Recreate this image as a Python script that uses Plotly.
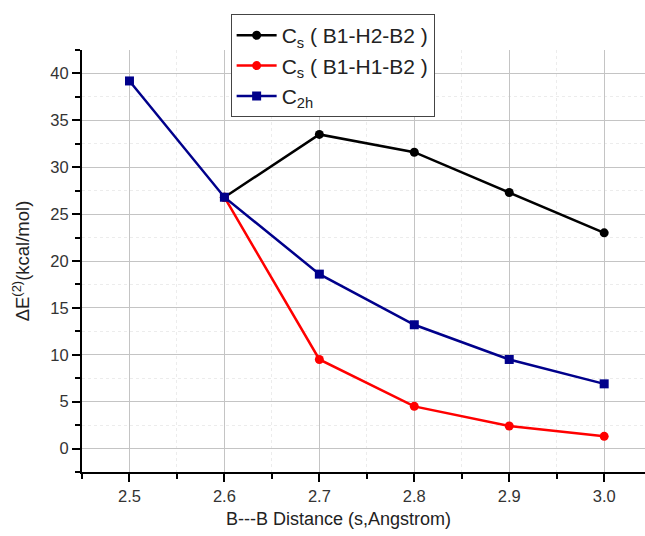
import plotly.graph_objects as go

x_cs_h2 = [2.6, 2.7, 2.8, 2.9, 3.0]
y_cs_h2 = [26.8, 33.5, 31.6, 27.3, 23.0]

x_cs_h1 = [2.6, 2.7, 2.8, 2.9, 3.0]
y_cs_h1 = [26.8, 9.5, 4.5, 2.4, 1.3]

x_c2h = [2.5, 2.6, 2.7, 2.8, 2.9, 3.0]
y_c2h = [39.2, 26.8, 18.6, 13.2, 9.5, 6.9]

x_ticks = [2.5, 2.6, 2.7, 2.8, 2.9, 3.0]
x_ticklabels = ["2.5", "2.6", "2.7", "2.8", "2.9", "3.0"]
y_ticks = [0, 5, 10, 15, 20, 25, 30, 35, 40]

font_family = "Arial, Liberation Sans, sans-serif"

fig = go.Figure()
fig.add_trace(go.Scatter(
    x=x_cs_h2, y=y_cs_h2, mode="lines+markers",
    name="C<sub>s</sub> ( B1-H2-B2 )",
    line=dict(color="black", width=2.5),
    marker=dict(symbol="circle", size=9, color="black"),
))
fig.add_trace(go.Scatter(
    x=x_cs_h1, y=y_cs_h1, mode="lines+markers",
    name="C<sub>s</sub> ( B1-H1-B2 )",
    line=dict(color="#ff0000", width=2.5),
    marker=dict(symbol="circle", size=9, color="#ff0000"),
))
fig.add_trace(go.Scatter(
    x=x_c2h, y=y_c2h, mode="lines+markers",
    name="C<sub>2h</sub>",
    line=dict(color="#00008b", width=2.5),
    marker=dict(symbol="square", size=9, color="#00008b"),
))

axis_common = dict(
    showline=True, linecolor="black", linewidth=2,
    ticks="outside", ticklen=8, tickwidth=2, tickcolor="black",
    showgrid=True, gridcolor="#c4c4c4", gridwidth=1,
    zeroline=False, mirror=False,
    tickfont=dict(family=font_family, size=16.5, color="#333333"),
)

fig.update_xaxes(
    range=[2.45, 3.043], tickvals=x_ticks, ticktext=x_ticklabels,
    minor=dict(dtick=0.05, ticks="outside", ticklen=5, tickwidth=2,
               tickcolor="black", showgrid=True, gridcolor="#ececec",
               griddash="dot"),
    **axis_common,
)
fig.update_yaxes(
    range=[-2.5, 42.5], tickvals=y_ticks,
    title=dict(text="ΔE<sup>(2)</sup>(kcal/mol)",
               font=dict(family=font_family, size=18.5, color="#222222"),
               standoff=16),
    minor=dict(dtick=2.5, tick0=0, ticks="outside", ticklen=5, tickwidth=2,
               tickcolor="black", showgrid=True, gridcolor="#ececec",
               griddash="dot"),
    **axis_common,
)

fig.add_annotation(
    text="B---B Distance (s,Angstrom)", xref="paper", yref="paper",
    x=0.455, y=-0.112, xanchor="center", yanchor="middle", showarrow=False,
    font=dict(family=font_family, size=18, color="#222222"),
)

fig.update_layout(
    width=645, height=536,
    margin=dict(l=82, r=0, t=50, b=64, autoexpand=False),
    plot_bgcolor="white", paper_bgcolor="white",
    font=dict(family=font_family, color="#222222"),
    legend=dict(
        x=0.264, y=1.085, xanchor="left", yanchor="top",
        bgcolor="white", bordercolor="#444444", borderwidth=1,
        font=dict(family=font_family, size=21, color="#222222"),
        itemwidth=40, tracegroupgap=0,
    ),
)

fig.write_html("out.html")
